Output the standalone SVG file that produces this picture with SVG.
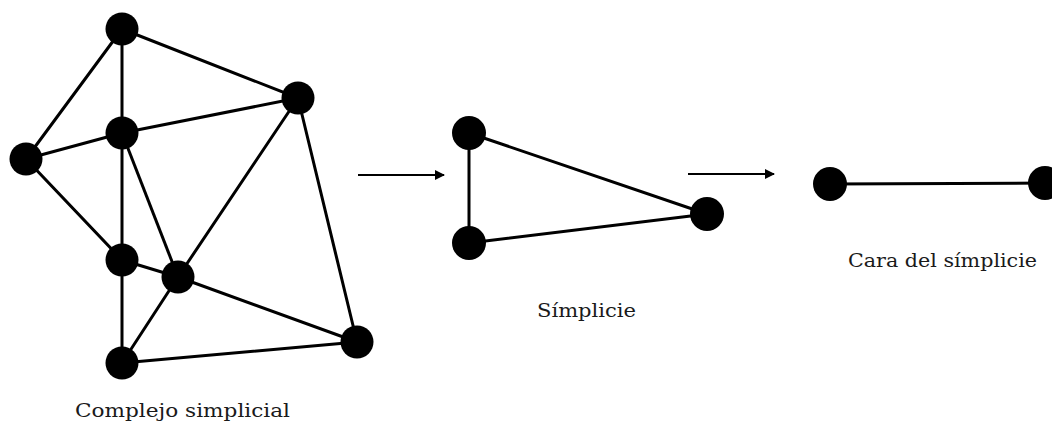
<svg xmlns="http://www.w3.org/2000/svg" width="1052" height="424" viewBox="0 0 1052 424">
<defs>
<style>
.e{stroke:#000;stroke-width:3;fill:none;stroke-linecap:round}
.a{stroke:#000;stroke-width:2;fill:none}
.n{fill:#000}
.t{font-family:"DejaVu Serif","Liberation Serif",serif;font-size:18.5px;fill:#1a1a1a}
</style>
<marker id="ah" viewBox="0 0 10 10" refX="9" refY="5" markerWidth="5" markerHeight="5" orient="auto" markerUnits="strokeWidth">
<path d="M0,0 L10,5 L0,10 z" fill="#000"/>
</marker>
</defs>
<rect width="1052" height="424" fill="#fff"/>
<g id="connectors">
<line class="e" x1="122" y1="29" x2="298" y2="98"/>
<line class="e" x1="122" y1="29" x2="122" y2="133"/>
<line class="e" x1="122" y1="29" x2="26" y2="159"/>
<line class="e" x1="122" y1="133" x2="26" y2="159"/>
<line class="e" x1="122" y1="133" x2="298" y2="98"/>
<line class="e" x1="122" y1="133" x2="122" y2="260"/>
<line class="e" x1="122" y1="133" x2="178" y2="277"/>
<line class="e" x1="26" y1="159" x2="122" y2="260"/>
<line class="e" x1="122" y1="260" x2="178" y2="277"/>
<line class="e" x1="122" y1="260" x2="122" y2="363"/>
<line class="e" x1="178" y1="277" x2="298" y2="98"/>
<line class="e" x1="178" y1="277" x2="122" y2="363"/>
<line class="e" x1="178" y1="277" x2="357" y2="342"/>
<line class="e" x1="298" y1="98" x2="357" y2="342"/>
<line class="e" x1="122" y1="363" x2="357" y2="342"/>
<line class="e" x1="469" y1="133" x2="469" y2="243"/>
<line class="e" x1="469" y1="133" x2="707" y2="214"/>
<line class="e" x1="469" y1="243" x2="707" y2="214"/>
<line class="e" x1="830" y1="184" x2="1045" y2="183"/>
<line class="a" x1="358" y1="175" x2="444" y2="175" marker-end="url(#ah)"/>
<line class="a" x1="688" y1="174" x2="774" y2="174" marker-end="url(#ah)"/>
</g>
<g id="n1"><circle class="n" cx="122" cy="29" r="16.5"/></g>
<g id="n2"><circle class="n" cx="298" cy="98" r="16.5"/></g>
<g id="n3"><circle class="n" cx="122" cy="133" r="16.5"/></g>
<g id="n4"><circle class="n" cx="26" cy="159" r="16.5"/></g>
<g id="n5"><circle class="n" cx="122" cy="260" r="16.5"/></g>
<g id="n6"><circle class="n" cx="178" cy="277" r="16.5"/></g>
<g id="n7"><circle class="n" cx="122" cy="363" r="16.5"/></g>
<g id="n8"><circle class="n" cx="357" cy="342" r="16.5"/></g>
<g id="s1"><circle class="n" cx="469" cy="133" r="17"/></g>
<g id="s2"><circle class="n" cx="469" cy="243" r="17"/></g>
<g id="s3"><circle class="n" cx="707" cy="214" r="17"/></g>
<g id="f1"><circle class="n" cx="830" cy="184" r="17"/></g>
<g id="f2"><circle class="n" cx="1045" cy="183" r="17"/></g>
<g id="labels">
<text class="t" x="75" y="417" textLength="215" lengthAdjust="spacingAndGlyphs">Complejo simplicial</text>
<text class="t" x="537" y="317" textLength="99" lengthAdjust="spacingAndGlyphs">Símplicie</text>
<text class="t" x="848" y="267" textLength="189" lengthAdjust="spacingAndGlyphs">Cara del símplicie</text>
</g>
</svg>
